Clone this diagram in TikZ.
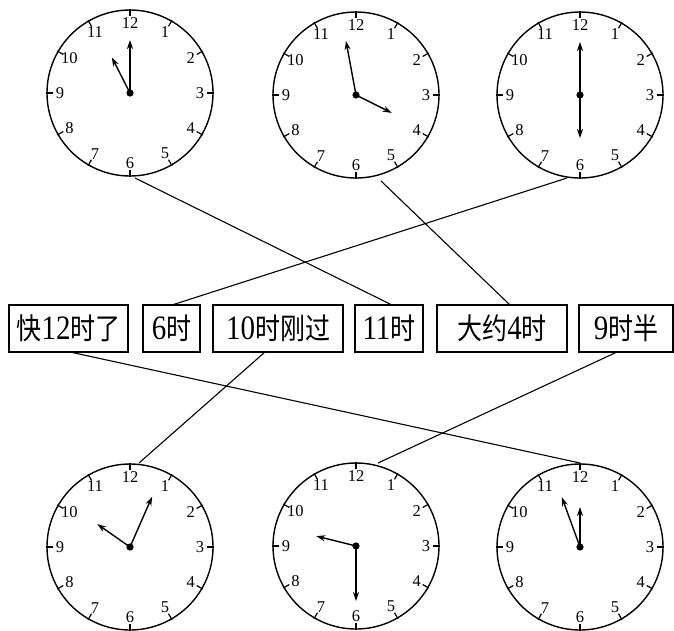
\documentclass[tikz,border=0pt]{standalone}
\usepackage{fontspec}
\setmainfont{Liberation Serif}
\newfontfamily\cjk{Noto Sans CJK SC}
\usetikzlibrary{arrows.meta}
\tikzset{
  face/.style={line width=1.4pt},
  tick/.style={line width=1.2pt},
  hand/.style={line width=1.4pt,-{Stealth[length=9pt,width=6pt]}},
  conn/.style={line width=1.1pt},
  lbl/.style={draw,line width=1.1pt,minimum height=47pt,inner sep=0pt,
    font=\fontsize{25}{25}\selectfont},
  num/.style={font=\fontsize{16.5}{16.5}\selectfont,inner sep=0pt},
}
\newcommand\dg[1]{{\fontsize{29}{29}\selectfont #1}}
\newcommand\zh[1]{{\cjk #1}}
\newcommand\tall[1]{\scalebox{1}[1.18]{#1}}
% name, cx, cy, minute angle, minute length, hour angle, hour length
\newcommand\clockface[7]{%
  \coordinate (#1) at (#2,#3);
  \begin{scope}[shift={(#1)}]
    \draw[face] (0,0) circle[radius=83];
    \foreach \h in {1,...,12}{
      \draw[tick] ({\h*30-90}:77) -- ({\h*30-90}:84);
      \node[num] (#1-n\h) at ({\h*30-90}:70) {\h};
    }
    \draw[hand] (0,0) -- ({#4-90}:#5);
    \draw[hand] (0,0) -- ({#6-90}:#7);
    \fill (0,0) circle[radius=3.6];
  \end{scope}
}
\begin{document}
\begin{tikzpicture}[x=1pt,y=-1pt]
\useasboundingbox (0,0) rectangle (674,630);

% top clocks
\clockface{A}{130}{93}{0}{53}{333}{40}
\clockface{B}{356}{95}{349.5}{55}{116.6}{40}
\clockface{C}{580}{95}{0}{53}{180}{43}
% bottom clocks
\clockface{D}{130}{547}{23.7}{55}{305}{40}
\clockface{E}{356}{546}{180}{55}{284}{41}
\clockface{F}{580}{547}{340}{53}{0}{40}

% labels
\node[lbl,minimum width=119pt] (l1) at (68.5,328.5) {\tall{\zh{快}\dg{12}\zh{时了}}};
\node[lbl,minimum width=57pt]  (l2) at (171.5,328.5) {\tall{\dg{6}\zh{时}}};
\node[lbl,minimum width=130pt] (l3) at (278,328.5) {\tall{\dg{10}\zh{时刚过}}};
\node[lbl,minimum width=68pt]  (l4) at (389,328.5) {\tall{\dg{11}\zh{时}}};
\node[lbl,minimum width=130pt] (l5) at (502,328.5) {\tall{\zh{大约}\dg{4}\zh{时}}};
\node[lbl,minimum width=94pt]  (l6) at (626,328.5) {\tall{\dg{9}\zh{时半}}};

% connector end points
\coordinate (A-out) at (135,178);
\coordinate (B-out) at (381,181);
\coordinate (C-out) at (567,178);
\coordinate (D-in) at (139,463);
\coordinate (E-in) at (378,463);
\coordinate (F-in) at (580,463);
\coordinate (l4-in) at (392,305);
\coordinate (l5-in) at (510,305);
\coordinate (l2-in) at (172,305);
\coordinate (l1-out) at (70,352);
\coordinate (l3-out) at (265,352);
\coordinate (l6-out) at (617,352);

\draw[conn] (A-out) -- (l4-in);
\draw[conn] (B-out) -- (l5-in);
\draw[conn] (C-out) -- (l2-in);
\draw[conn] (l1-out) -- (F-in);
\draw[conn] (l3-out) -- (D-in);
\draw[conn] (l6-out) -- (E-in);
\end{tikzpicture}
\end{document}
